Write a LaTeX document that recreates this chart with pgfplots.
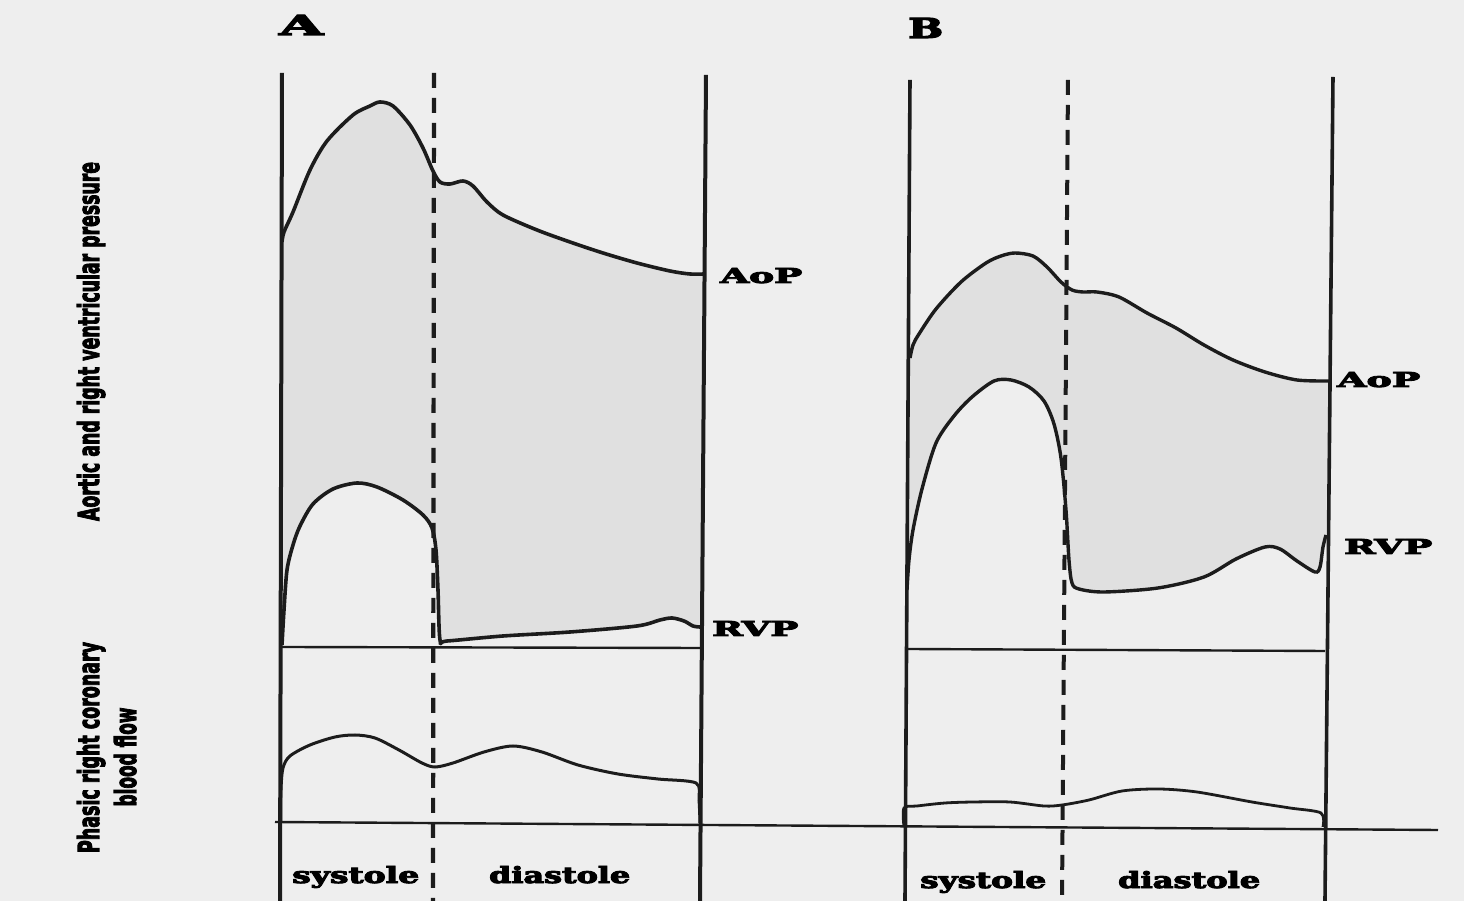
\documentclass[border=0pt]{standalone}
\usepackage{pgfplots}
\usepackage{pgfplotstable}
\usepackage{graphicx}
\usepackage{fontspec}
\setmainfont{DejaVu Serif}[BoldFeatures={FakeBold=4}]
\newfontfamily\labsans{DejaVu Sans}[BoldFeatures={FakeBold=4}]
\pgfplotsset{compat=1.18}
\usepgfplotslibrary{fillbetween}
\definecolor{bg}{HTML}{EEEEEE}
\definecolor{ink}{HTML}{1C1C1C}
\definecolor{shade}{HTML}{E0E0E0}
\pagecolor{bg}

\pgfplotstableread{
x y
282 242
284 232
293 212
310 170
327 141
353 115
370 106
380 102
393 106
410 125
423 148
433 171
440 182
450 184
463 181
473 186
487 202
503 215
537 230
570 242
603 253
637 263
670 271
690 274
704 274
}\aopA

\pgfplotstableread{
x y
282 645
284 610
287 570
293 545
300 526
313 504
333 489
357 483
377 487
403 500
423 515
432 528
436 550
438 590
440 640
447 641
503 636
570 632
637 626
660 620
672 618
684 621
693 626
700 627
}\rvpA

\pgfplotstableread{
x y
281 822
281 790
283 768
290 756
310 745
335 737
355 735
375 738
399 750
422 763
435 767
453 763
484 752
513 746
542 752
578 765
618 774
658 779
696 783
699 800
700 823
}\flowA

\pgfplotstableread{
x y
910 358
913 345
919 334
936 309
961 282
986 263
1001 256
1015 253
1033 256
1047 267
1061 282
1072 290
1083 292
1097 292
1119 297
1147 313
1176 328
1204 345
1233 360
1265 372
1297 380
1329 381
}\aopB

\pgfplotstableread{
x y
907 590
909 560
913 530
922 489
936 443
954 416
972 397
994 381
1011 380
1029 387
1044 401
1054 424
1061 458
1066 510
1069 560
1072 583
1079 589
1104 592
1158 588
1204 577
1236 559
1265 547
1280 549
1297 561
1315 572
1320 567
1323 547
1326 535
}\rvpB

\pgfplotstableread{
x y
904 827
904 808
917 806
945 803
973 802
1010 802
1044 806
1062 805
1089 800
1122 791
1159 789
1197 792
1252 802
1290 808
1321 813
1323 827
}\flowB

\begin{document}
\begin{tikzpicture}
\begin{axis}[name=ax, at={(0,0)}, anchor=south west,
  width=1464bp, height=901bp, scale only axis,
  xmin=0, xmax=1464, ymin=0, ymax=901, y dir=reverse,
  hide axis, clip=true]

% invisible named paths for the shaded regions
\addplot[draw=none, smooth, tension=0.5, name path=pAA] table {\aopA};
\addplot[draw=none, smooth, tension=0.5, name path=pRA] table {\rvpA};
\addplot[draw=none, smooth, tension=0.5, name path=pAB] table {\aopB};
\addplot[draw=none, smooth, tension=0.5, name path=pRB] table {\rvpB};
\addplot[fill=shade, draw=none] fill between[of=pAA and pRA];
\addplot[fill=shade, draw=none] fill between[of=pAB and pRB];

% frames, panel A
\addplot[ink, line width=4bp] coordinates {(282,73) (280,901)};
\addplot[ink, line width=4.2bp, dash pattern=on 15bp off 10bp] coordinates {(434,73) (433,901)};
\addplot[ink, line width=4bp] coordinates {(706,75) (700,901)};
\addplot[ink, line width=2.4bp] coordinates {(282,647) (700,648)};
% common flow baseline
\addplot[ink, line width=2.4bp] coordinates {(275,822) (1438,830)};
% frames, panel B
\addplot[ink, line width=3.6bp] coordinates {(910,80) (905,901)};
\addplot[ink, line width=4bp, dash pattern=on 15bp off 10bp] coordinates {(1068,80) (1062,901)};
\addplot[ink, line width=3.6bp] coordinates {(1333,77) (1325,901)};
\addplot[ink, line width=2.4bp] coordinates {(908,649) (1325,651)};

% curves
\addplot[ink, line width=3.6bp, smooth, tension=0.5] table {\aopA};
\addplot[ink, line width=3.6bp, smooth, tension=0.5] table {\rvpA};
\addplot[ink, line width=3bp, smooth, tension=0.5] table {\flowA};
\addplot[ink, line width=3.4bp, smooth, tension=0.5] table {\aopB};
\addplot[ink, line width=3.4bp, smooth, tension=0.5] table {\rvpB};
\addplot[ink, line width=2.8bp, smooth, tension=0.5] table {\flowB};

% labels
\node[anchor=base west, inner sep=0] at (axis cs:279,35) {\resizebox{44bp}{20bp}{\bfseries A}};
\node[anchor=base west, inner sep=0] at (axis cs:908,38) {\resizebox{35bp}{20bp}{\bfseries B}};
\node[anchor=base west, inner sep=0] at (axis cs:720,283) {\resizebox{82bp}{15bp}{\bfseries AoP}};
\node[anchor=base west, inner sep=0] at (axis cs:712,636) {\resizebox{86bp}{15bp}{\bfseries RVP}};
\node[anchor=base west, inner sep=0] at (axis cs:1337,387) {\resizebox{83bp}{15bp}{\bfseries AoP}};
\node[anchor=base west, inner sep=0] at (axis cs:1344,554) {\resizebox{88bp}{15bp}{\bfseries RVP}};
\node[anchor=base west, inner sep=0] at (axis cs:292,883) {\resizebox{127bp}{17bp}{\bfseries systole}};
\node[anchor=base west, inner sep=0] at (axis cs:489,883) {\resizebox{141bp}{17bp}{\bfseries diastole}};
\node[anchor=base west, inner sep=0] at (axis cs:920,888) {\resizebox{126bp}{17bp}{\bfseries systole}};
\node[anchor=base west, inner sep=0] at (axis cs:1118,888) {\resizebox{142bp}{17bp}{\bfseries diastole}};

\node[rotate=90, anchor=base, inner sep=0] at (axis cs:99,341.5) {\resizebox{359bp}{22bp}{\labsans\bfseries Aortic and right ventricular pressure}};
\node[rotate=90, anchor=base, inner sep=0] at (axis cs:99,747.5) {\resizebox{211bp}{22bp}{\labsans\bfseries Phasic right coronary}};
\node[rotate=90, anchor=base, inner sep=0] at (axis cs:136,757) {\resizebox{99bp}{22bp}{\labsans\bfseries blood flow}};
\end{axis}
\pgfresetboundingbox
\path (0,0) rectangle (1464bp,901bp);
\end{tikzpicture}
\end{document}
